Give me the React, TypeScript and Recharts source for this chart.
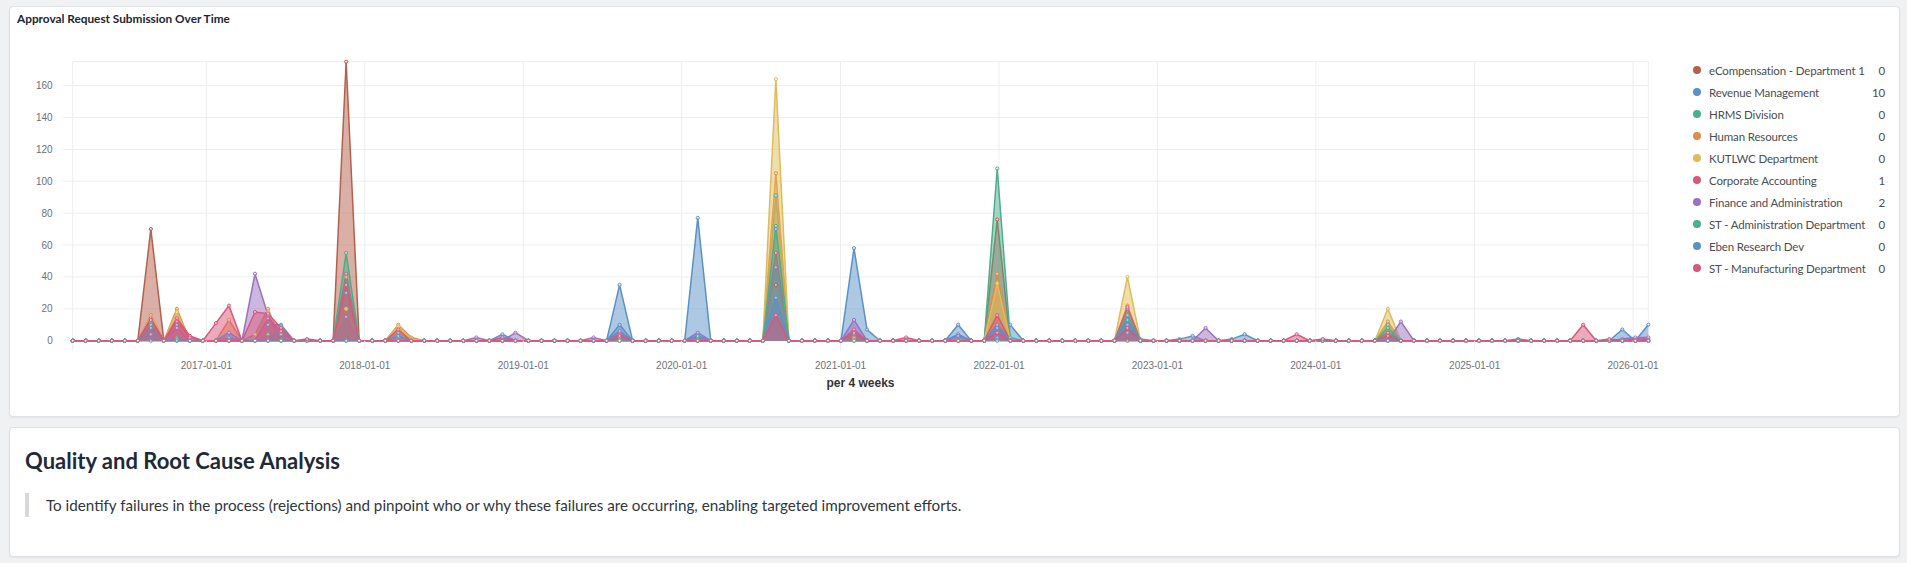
import React from 'react'
import { AreaChart, Area, XAxis, YAxis, CartesianGrid } from 'recharts'

// buckets on the x axis: one point every 30 days from the first bucket
const FIRST_BUCKET = '2016-02-28'
const BUCKET_STEP_DAYS = 30
const BUCKET_COUNT = 122

const YEAR_TICKS = [
  '2017-01-01', '2018-01-01', '2019-01-01', '2020-01-01', '2021-01-01',
  '2022-01-01', '2023-01-01', '2024-01-01', '2025-01-01', '2026-01-01',
]
const Y_TICKS = [0, 20, 40, 60, 80, 100, 120, 140, 160]

// [bucket index, requests] – every other bucket is 0
const ECOMPENSATION: [number, number][] = [[6, 70], [21, 175], [54, 35], [71, 76]]
const REVENUE_MANAGEMENT: [number, number][] = [
  [8, 10], [12, 2], [15, 10], [16, 10], [21, 30], [25, 5], [33, 4], [42, 35], [48, 77], [54, 70],
  [60, 58], [61, 7], [68, 10], [71, 2], [72, 10], [81, 5], [85, 1], [86, 3], [89, 1], [90, 4],
  [111, 1], [119, 7], [121, 10],
]
const HRMS_DIVISION: [number, number][] = [
  [6, 12], [8, 2], [15, 4], [16, 4], [25, 2], [42, 2], [48, 2], [54, 91], [71, 108], [72, 2],
  [81, 20], [82, 1], [101, 10],
]
const HUMAN_RESOURCES: [number, number][] = [
  [6, 16], [8, 20], [12, 13], [14, 4], [15, 20], [21, 40], [25, 10], [26, 2], [54, 105], [60, 2],
  [71, 42], [81, 22], [101, 12],
]
const KUTLWC: [number, number][] = [
  [6, 15], [8, 18], [15, 18], [21, 20], [25, 9], [26, 1], [54, 164], [71, 36], [81, 40], [101, 20],
]
const CORPORATE_ACCOUNTING: [number, number][] = [
  [6, 14], [8, 14], [9, 3], [11, 11], [12, 22], [15, 14], [16, 6], [21, 42], [25, 7], [33, 2],
  [42, 4], [54, 55], [60, 7], [64, 2], [71, 16], [81, 21], [94, 4], [101, 5], [116, 10], [120, 1],
  [121, 1],
]
const FINANCE_ADMIN: [number, number][] = [
  [6, 4], [8, 8], [12, 5], [14, 42], [15, 16], [21, 15], [31, 2], [34, 5], [40, 2], [42, 6],
  [48, 5], [54, 46], [60, 13], [68, 4], [71, 8], [81, 10], [87, 8], [102, 12], [119, 1], [120, 2],
  [121, 2],
]
const ST_ADMINISTRATION: [number, number][] = [[6, 10], [8, 1], [21, 55], [54, 72], [81, 16], [101, 8]]
const EBEN_RESEARCH: [number, number][] = [
  [6, 8], [16, 9], [25, 3], [42, 10], [48, 3], [54, 27], [60, 4], [68, 3], [71, 10], [81, 13],
]
const ST_MANUFACTURING: [number, number][] = [
  [6, 13], [8, 12], [9, 2], [14, 18], [15, 17], [16, 8], [18, 1], [21, 35], [42, 3], [54, 16],
  [60, 5], [71, 5], [81, 8], [96, 1], [101, 3], [118, 1],
]

const SERIES = [
  { key: 's0', name: 'eCompensation - Department 1', color: '#b5604c', points: ECOMPENSATION },
  { key: 's1', name: 'Revenue Management', color: '#5b92c6', points: REVENUE_MANAGEMENT },
  { key: 's2', name: 'HRMS Division', color: '#4dae8e', points: HRMS_DIVISION },
  { key: 's3', name: 'Human Resources', color: '#e08b4b', points: HUMAN_RESOURCES },
  { key: 's4', name: 'KUTLWC Department', color: '#dfbb5a', points: KUTLWC },
  { key: 's5', name: 'Corporate Accounting', color: '#d9577c', points: CORPORATE_ACCOUNTING },
  { key: 's6', name: 'Finance and Administration', color: '#9a72bf', points: FINANCE_ADMIN },
  { key: 's7', name: 'ST - Administration Department', color: '#4dae8e', points: ST_ADMINISTRATION },
  { key: 's8', name: 'Eben Research Dev', color: '#5b92c6', points: EBEN_RESEARCH },
  { key: 's9', name: 'ST - Manufacturing Department', color: '#d9577c', points: ST_MANUFACTURING },
]

const DAY = 24 * 3600 * 1000
const start = Date.parse(FIRST_BUCKET)
const valueAt = (pts: [number, number][], i: number) => pts.find((p) => p[0] === i)?.[1] ?? 0

const chartData = Array.from({ length: BUCKET_COUNT }, (_, i) => {
  const row: Record<string, number> = { t: start + i * BUCKET_STEP_DAYS * DAY }
  SERIES.forEach((s) => { row[s.key] = valueAt(s.points, i) })
  return row
})

const xTicks = [start, ...YEAR_TICKS.map((d) => Date.parse(d))]
const tickLabel = (v: number) => (v === start ? '' : new Date(v).toISOString().slice(0, 10))

const FONT = 'Lato, "Noto Sans", sans-serif'
const AXIS_FONT = '"Liberation Sans", Arial, sans-serif'
const GRID = '#eceef2'

const card: React.CSSProperties = {
  position: 'absolute', left: 9, width: 1889, background: '#fff',
  border: '1px solid #dfe1e5', borderRadius: 4, boxShadow: '0 1px 2px rgba(0,0,0,0.06)',
}

export default function App() {
  return (
    <div style={{ position: 'absolute', left: 0, top: 0, width: 1907, height: 563, background: '#f0f1f3', fontFamily: FONT }}>
      <div style={{ ...card, top: 6, height: 409 }} />
      <div style={{ position: 'absolute', left: 17, top: 12, fontSize: 11.8, lineHeight: '14px', fontWeight: 700, color: '#1d2433' }}>
        Approval Request Submission Over Time
      </div>

      <AreaChart
        width={1907}
        height={420}
        data={chartData}
        margin={{ top: 61.7, right: 258.7, left: 12.7, bottom: 49.3 }}
        style={{ position: 'absolute', left: 0, top: 0 }}
      >
        <CartesianGrid stroke={GRID} />
        <XAxis
          dataKey="t"
          type="number"
          domain={['dataMin', 'dataMax']}
          ticks={xTicks}
          tickFormatter={tickLabel}
          height={30}
          tickSize={10}
          tickMargin={11}
          tickLine={{ stroke: GRID }}
          axisLine={false}
          tick={{ fontSize: 10, fill: '#6e7079', fontFamily: AXIS_FONT }}
          label={{ value: 'per 4 weeks', position: 'bottom', offset: 8, fontSize: 12, fontWeight: 700, fill: '#333', fontFamily: AXIS_FONT }}
        />
        <YAxis
          domain={[0, 'dataMax']}
          ticks={Y_TICKS}
          width={60}
          tickSize={10}
          tickMargin={10}
          tickLine={{ stroke: GRID }}
          axisLine={false}
          tick={{ fontSize: 10, fill: '#6e7079', fontFamily: AXIS_FONT }}
        />
        {SERIES.map((s) => (
          <Area
            key={s.key}
            type="linear"
            dataKey={s.key}
            name={s.name}
            stroke={s.color}
            strokeWidth={1.5}
            fill={s.color}
            fillOpacity={0.5}
            dot={{ r: 1.6, fill: '#fff', stroke: s.color, strokeWidth: 1 }}
            activeDot={false}
            isAnimationActive={false}
          />
        ))}
      </AreaChart>

      {SERIES.map((s, i) => (
        <div
          key={s.key}
          style={{
            position: 'absolute', left: 1693, top: 62 + i * 22, width: 192, height: 16,
            display: 'flex', alignItems: 'center', fontSize: 11.5, letterSpacing: -0.15, color: '#4a4d52',
          }}
        >
          <span style={{ width: 8, height: 8, borderRadius: 4, background: s.color, marginRight: 8 }} />
          <span style={{ flex: 1, whiteSpace: 'nowrap' }}>{s.name}</span>
          <span>{chartData[BUCKET_COUNT - 1][s.key]}</span>
        </div>
      ))}

      <div style={{ ...card, top: 427, height: 128 }} />
      <div style={{ position: 'absolute', left: 25, top: 447, fontSize: 22, lineHeight: '28px', fontWeight: 700, color: '#1f2a37' }}>
        Quality and Root Cause Analysis
      </div>
      <div style={{ position: 'absolute', left: 25, top: 493, width: 4, height: 24, background: '#d6d8dc' }} />
      <div style={{ position: 'absolute', left: 46, top: 495, fontSize: 15.2, lineHeight: '20px', color: '#31363d' }}>
        To identify failures in the process (rejections) and pinpoint who or why these failures are occurring, enabling targeted improvement efforts.
      </div>
    </div>
  )
}
